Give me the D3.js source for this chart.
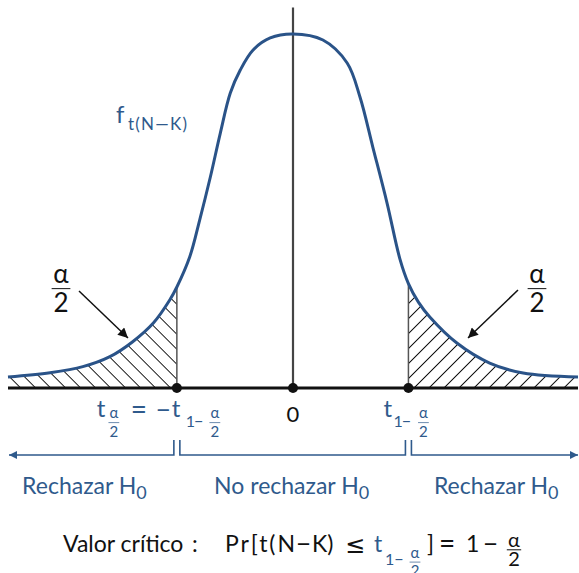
<!DOCTYPE html>
<html>
<head>
<meta charset="utf-8">
<title>t de Student - contraste bilateral</title>
<style>
  body { margin: 0; background: #fff; }
  svg { display: block; font-family: Lato, "Open Sans", sans-serif; }
</style>
</head>
<body>
<svg width="579" height="573"></svg>
<script src="https://cdn.jsdelivr.net/npm/d3@7/dist/d3.min.js"></script>
<script>
// curva de densidad (t, f(t))
const curveT = [-4.00, -3.41, -2.95, -2.57, -2.25, -1.96, -1.73, -1.63, -1.45, -1.31, -1.16, -1.02, -0.88, -0.74, -0.56, -0.32, 0,
                0.42, 0.76, 0.94, 1.12, 1.32, 1.50, 1.62, 1.76, 1.92, 2.30, 2.76, 3.23, 4.00]
const curveF = [0.0125, 0.0173, 0.0241, 0.0354, 0.0523, 0.0734, 0.0994, 0.1141, 0.1480, 0.1898, 0.2384, 0.2881, 0.3333, 0.3593, 0.3819, 0.3955, 0.400,
                0.3932, 0.3672, 0.3288, 0.2723, 0.2090, 0.1460, 0.1180, 0.0970, 0.0802, 0.0508, 0.0282, 0.0169, 0.0124]
// valores criticos y puntos marcados en el eje
const critT = [-1.63, 1.62]
const axisPoints = [-1.63, 0, 1.62]
// rotulos de regiones
const regionLabels = ["Rechazar H", "No rechazar H", "Rechazar H"]

const blue = "#2f5a8c", black = "#111"

const svg = d3.select("svg")
const x = d3.scaleLinear().domain([-4, 4]).range([8, 578])
const y = d3.scaleLinear().domain([0, 0.4]).range([388, 34])
const pts = curveT.map((t, i) => ({ t: t, f: curveF[i] }))

// #region tramas y marcadores
const defs = svg.append("defs")
function hatch(id, angle) {
  const p = defs.append("pattern").attr("id", id)
    .attr("patternUnits", "userSpaceOnUse")
    .attr("width", 10.6).attr("height", 10.6)
    .attr("patternTransform", `rotate(${angle})`)
  p.append("line").attr("x1", 5.3).attr("y1", 0).attr("x2", 5.3).attr("y2", 10.6)
    .attr("stroke", black).attr("stroke-width", 1)
}
hatch("hL", -45)
hatch("hR", 45)
defs.append("clipPath").attr("id", "cL").append("rect")
  .attr("x", x(-4)).attr("y", 0).attr("width", x(critT[0]) - x(-4)).attr("height", y(0))
defs.append("clipPath").attr("id", "cR").append("rect")
  .attr("x", x(critT[1])).attr("y", 0).attr("width", x(4) - x(critT[1])).attr("height", y(0))
function marker(id, color, w, h) {
  defs.append("marker").attr("id", id).attr("viewBox", "0 0 10 10")
    .attr("refX", 10).attr("refY", 5).attr("markerWidth", w).attr("markerHeight", h)
    .attr("markerUnits", "userSpaceOnUse").attr("orient", "auto")
    .append("path").attr("d", "M0,0L10,5L0,10z").attr("fill", color)
}
marker("ah", blue, 13, 8)
marker("ahk", black, 14, 10)
// #endregion

const curve = d3.curveCatmullRom.alpha(0.5)
const area = d3.area().x(d => x(d.t)).y0(y(0)).y1(d => y(d.f)).curve(curve)
const line = d3.line().x(d => x(d.t)).y(d => y(d.f)).curve(curve)

// colas rayadas
svg.append("path").datum(pts).attr("d", area).attr("fill", "url(#hL)").attr("clip-path", "url(#cL)")
svg.append("path").datum(pts).attr("d", area).attr("fill", "url(#hR)").attr("clip-path", "url(#cR)")

// verticales en los valores criticos
svg.selectAll("line.crit").data(critT).enter().append("line").attr("class", "crit")
  .attr("x1", d => x(d)).attr("x2", d => x(d))
  .attr("y1", y(0)).attr("y2", d => y(pts.find(p => p.t === d).f))
  .attr("stroke", "#555").attr("stroke-width", 1.5)

// eje vertical central
svg.append("line").attr("x1", x(0)).attr("x2", x(0)).attr("y1", y(0)).attr("y2", y(0.43))
  .attr("stroke", "#444").attr("stroke-width", 2.2)

// curva
svg.append("path").datum(pts).attr("d", line)
  .attr("fill", "none").attr("stroke", "#2a5388").attr("stroke-width", 3)

// eje horizontal
svg.append("line").attr("x1", x(-4)).attr("x2", x(4)).attr("y1", y(0)).attr("y2", y(0))
  .attr("stroke", black).attr("stroke-width", 3)
svg.selectAll("circle").data(axisPoints).enter().append("circle")
  .attr("cx", d => x(d)).attr("cy", y(0)).attr("r", 5).attr("fill", black)

// #region textos
function put(txt, px, py, size, color, anchor) {
  return svg.append("text").attr("x", px).attr("y", py).attr("font-size", size)
    .attr("fill", color).attr("text-anchor", anchor || "start").text(txt)
}
// fraccion alfa/2: linea base de alfa y del 2
function frac(cx, yA, y2, size, color) {
  put("α", cx, yA, size, color, "middle")
  const yb = (yA + y2 - size * 0.72) / 2 + 0.5
  svg.append("line").attr("x1", cx - size * 0.36).attr("x2", cx + size * 0.36)
    .attr("y1", yb).attr("y2", yb)
    .attr("stroke", color).attr("stroke-width", size > 18 ? 1 : 0.7)
  put("2", cx, y2, size, color, "middle")
}

// alfa/2 con flechas
frac(61, 283, 312, 26, black)
frac(537, 283, 312, 26, black)
svg.append("line").attr("x1", 79).attr("y1", 291).attr("x2", 128).attr("y2", 338)
  .attr("stroke", black).attr("stroke-width", 1.5).attr("marker-end", "url(#ahk)")
svg.append("line").attr("x1", 518).attr("y1", 290).attr("x2", 468).attr("y2", 338)
  .attr("stroke", black).attr("stroke-width", 1.5).attr("marker-end", "url(#ahk)")

// f_t(N-K)
put("f", 116, 123, 24, blue)
put("t(N—K)", 128, 130, 17, blue).attr("textLength", 59).attr("lengthAdjust", "spacing")

// rotulos del eje
const xl = x(critT[0]), xr = x(critT[1])
put("t", xl - 80, 417, 24, blue)
frac(xl - 63, 418, 437, 15, blue)
put("=", xl - 46, 419, 28, blue)
put("−", xl - 21, 419, 26, blue)
put("t", xl - 5, 417, 24, blue)
put("1", xl + 9, 427, 16, blue)
put("–", xl + 17, 427, 17, blue)
frac(xl + 38, 418, 437, 15, blue)
put("0", x(0), 422, 22, black, "middle")
put("t", xr - 25, 417, 24, blue)
put("1", xr - 15, 427, 16, blue)
put("–", xr - 7, 427, 17, blue)
frac(xr + 15, 418, 437, 15, blue)
// #endregion

// #region regiones
const ya = 455, yt = 440
const g = svg.append("g").attr("stroke", blue).attr("stroke-width", 1.6).attr("fill", "none")
g.append("path").attr("d", `M${xl - 3},${yt}V${ya}H${x(-4) + 1}`).attr("marker-end", "url(#ah)")
g.append("path").attr("d", `M${xl + 3},${yt}V${ya}H${xr - 3}V${yt}`)
g.append("path").attr("d", `M${xr + 3},${yt}V${ya}H${x(4)}`).attr("marker-end", "url(#ah)")

const regionX = [(x(-4) + xl) / 2 - 8, (xl + xr) / 2 - 1, (xr + x(4)) / 2 + 3]
regionLabels.forEach((lab, i) => {
  const t = svg.append("text").attr("x", regionX[i]).attr("y", 494).attr("font-size", 23)
    .attr("fill", blue).attr("text-anchor", "middle")
  t.append("tspan").text(lab)
  t.append("tspan").attr("dy", 5).attr("font-size", 18).text("0")
})
// #endregion

// #region valor critico
put("Valor  crítico", 63, 552, 23, black)
put(":", 192, 552, 23, black)
put("Pr[t(N", 225, 552, 23, black).attr("textLength", 70).attr("lengthAdjust", "spacing")
put("−", 296, 553, 26, black)
put("K)", 312, 552, 23, black)
put("≤", 345, 553, 24, black).style("font-family", "DejaVu Sans")
put("t", 374, 552, 23, blue)
put("1", 385, 565, 16, blue)
put("–", 394, 565, 17, blue)
frac(415, 558, 576, 15, blue)
put("]", 427, 552, 23, black)
put("=", 439, 553, 28, black)
put("1", 466, 552, 23, black)
put("−", 483, 553, 26, black)
frac(514, 547, 566, 20, black)
// #endregion
</script>
</body>
</html>
